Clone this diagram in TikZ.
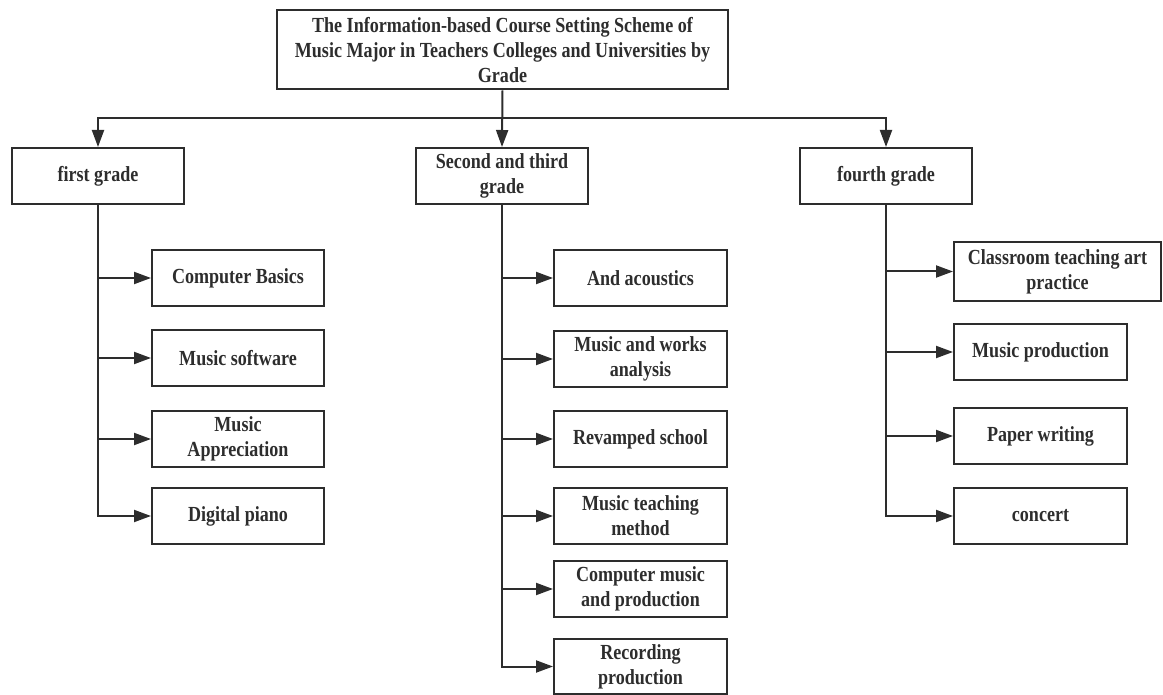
\documentclass[tikz,border=0pt]{standalone}
\usepackage{fontspec}
\usepackage{xcolor}
\usepackage{tikz}
\usetikzlibrary{
  arrows.meta,
  positioning
}
\newfontfamily\boxfont{Liberation Serif}[FakeStretch=0.84]
\definecolor{inkgray}{RGB}{45,45,45}
\tikzset{
  gradebox/.style={
    draw=inkgray,
    line width=2pt,
    align=center,
    minimum width=172pt,
    minimum height=56pt,
    inner sep=2pt,
    text=inkgray,
    font=\boxfont\bfseries\fontsize{21.5}{25}\selectfont
  },
  titlebox/.style={gradebox,minimum width=451pt,minimum height=79pt},
  coursebox/.style={gradebox,minimum width=173pt},
  linkarrow/.style={-{Triangle[length=17pt,width=12pt]},line width=2pt,draw=inkgray},
}

\begin{document}
\begin{tikzpicture}[x=1pt,y=-1pt]
  \useasboundingbox (0,0) rectangle (1163,695);
  % top and grade level
  \node[titlebox] (scheme) at (502.5,50) {The Information-based Course Setting Scheme of\\
    Music Major in Teachers Colleges and Universities by\\ Grade};
  \node[gradebox] (first) at (98,176) {first grade};
  \node[gradebox] (second) at (502,176) {Second and third\\ grade};
  \node[gradebox] (fourth) at (886,176) {fourth grade};
  \coordinate (bus) at (502,118);
  \draw[linkarrow] (scheme.south) -- (second.north);
  \draw[linkarrow] (bus) -| (first.north);
  \draw[linkarrow] (bus) -| (fourth.north);
  % first grade courses
  \node[coursebox,minimum width=172pt] (basics) at (238,278) {Computer Basics};
  \node[coursebox,minimum width=172pt] (software) at (238,358) {Music software};
  \node[coursebox,minimum width=172pt] (appreciation) at (238,439) {Music\\ Appreciation};
  \node[coursebox,minimum width=172pt] (piano) at (238,516) {Digital piano};
  % second and third grade courses
  \node[coursebox] (acoustics) at (640.5,278) {And acoustics};
  \node[coursebox] (analysis) at (640.5,359) {Music and works\\ analysis};
  \node[coursebox] (revamped) at (640.5,439) {Revamped school};
  \node[coursebox] (method) at (640.5,516) {Music teaching\\ method};
  \node[coursebox] (computer) at (640.5,589) {Computer music\\ and production};
  \node[coursebox,minimum height=55pt] (recording) at (640.5,666.5) {Recording\\ production};
  % fourth grade courses
  \node[coursebox,minimum width=207pt,minimum height=59pt] (classroom) at (1057.5,271.5) {Classroom teaching art\\ practice};
  \node[coursebox] (production) at (1040.5,352) {Music production};
  \node[coursebox] (paper) at (1040.5,436) {Paper writing};
  \node[coursebox] (concert) at (1040.5,516) {concert};
  \foreach \course in {basics,software,appreciation,piano}
    \draw[linkarrow] (first.south) |- (\course.west);
  \foreach \course in {acoustics,analysis,revamped,method,computer,recording}
    \draw[linkarrow] (second.south) |- (\course.west);
  \foreach \course in {classroom,production,paper,concert}
    \draw[linkarrow] (fourth.south) |- (\course.west);
\end{tikzpicture}
\end{document}
